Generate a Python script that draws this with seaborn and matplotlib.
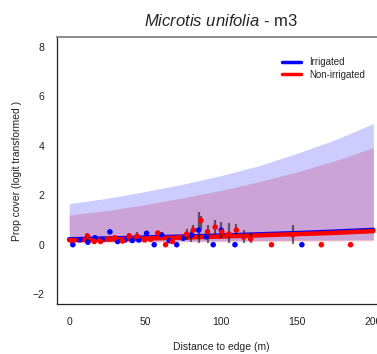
import numpy as np
import pandas as pd
import matplotlib
matplotlib.use("Agg")
import matplotlib.pyplot as plt
from matplotlib.lines import Line2D
import seaborn as sns

# Fitted curves and confidence bands
fit_x = [0, 25, 50, 75, 100, 125, 150, 175, 200]
irr_fit = [0.22, 0.25, 0.29, 0.33, 0.37, 0.42, 0.47, 0.53, 0.60]
non_fit = [0.18, 0.21, 0.25, 0.29, 0.33, 0.38, 0.43, 0.48, 0.55]
irr_upper = [1.66, 1.88, 2.15, 2.45, 2.80, 3.20, 3.70, 4.25, 4.90]
irr_lower = [0.12, 0.13, 0.14, 0.15, 0.16, 0.17, 0.18, 0.19, 0.20]
non_upper = [1.20, 1.38, 1.62, 1.90, 2.20, 2.55, 2.95, 3.40, 3.93]
non_lower = [0.08, 0.09, 0.10, 0.11, 0.12, 0.13, 0.14, 0.15, 0.16]

# Observed plot means
irr_x = [2.4, 7, 12.3, 17, 21.7, 26.8, 31.8, 36.6, 41.5, 45.8, 50.9, 55.9,
         60.8, 65.8, 70.7, 75, 80.3, 85.1, 90, 94.7, 100, 109, 153]
irr_y = [0.0, 0.2, 0.1, 0.28, 0.21, 0.52, 0.13, 0.19, 0.17, 0.19, 0.46, 0.0,
         0.4, 0.16, 0.0, 0.26, 0.39, 0.59, 0.32, 0.0, 0.59, 0.0, 0.0]
non_x = [1.6, 12, 16.5, 20.6, 26, 30, 35, 39.5, 44.7, 49.6, 53.7, 58.3, 63.4,
         67.8, 72.4, 77.2, 81.6, 86.6, 91, 96, 100.4, 105, 109.9, 114.7,
         119.3, 133, 147, 165.8, 185]
non_y = [0.17, 0.35, 0.13, 0.13, 0.24, 0.28, 0.15, 0.36, 0.34, 0.2, 0.22,
         0.47, 0.0, 0.13, 0.3, 0.42, 0.59, 0.98, 0.52, 0.71, 0.52, 0.43,
         0.59, 0.31, 0.24, 0.0, 0.4, 0.0, 0.0]

# Standard error ranges
err_x = [12, 39.5, 44.7, 77.2, 80.3, 81.6, 85.1, 86.6, 91, 96, 100, 105,
         109.9, 114.7, 119.3, 147]
err_lo = [0.21, 0.25, 0.19, 0.19, 0.12, 0.33, 0.05, 0.59, 0.05, 0.45, 0.26,
          0.05, 0.39, 0.05, 0.05, 0.02]
err_hi = [0.49, 0.49, 0.52, 0.62, 0.57, 0.80, 1.31, 1.16, 0.80, 0.99, 0.93,
          0.86, 0.82, 0.59, 0.46, 0.80]

series_names = ["Irrigated", "Non-irrigated"]
series_colors = ["#0000ff", "#ff0000"]

sns.set_style("white")
plt.rcParams["font.family"] = ["Liberation Sans", "DejaVu Sans"]
plt.rcParams["mathtext.fontset"] = "custom"
plt.rcParams["mathtext.it"] = "Liberation Sans:italic"
plt.rcParams["mathtext.rm"] = "Liberation Sans"

fig = plt.figure(figsize=(3.77, 3.54), dpi=100)
ax = fig.add_axes([0.1512, 0.1412, 0.8714, 0.754])

# confidence bands
ax.fill_between(fit_x, non_lower, non_upper, color=(1, 0, 0, 0.2), lw=0)
ax.fill_between(fit_x, irr_lower, irr_upper, color=(0, 0, 1, 0.2), lw=0)

# fitted lines
fits = pd.DataFrame({
    "x": fit_x * 2,
    "y": irr_fit + non_fit,
    "group": [series_names[0]] * len(fit_x) + [series_names[1]] * len(fit_x),
})
sns.lineplot(data=fits, x="x", y="y", hue="group", palette=series_colors,
             hue_order=series_names, linewidth=3.2, legend=False, ax=ax)

# error bars
ax.vlines(err_x, err_lo, err_hi, colors=(0.1, 0.1, 0.1, 0.6), linewidth=1.6)

# observed points
pts = pd.DataFrame({
    "x": irr_x + non_x,
    "y": irr_y + non_y,
    "group": [series_names[0]] * len(irr_x) + [series_names[1]] * len(non_x),
})
sns.scatterplot(data=pts, x="x", y="y", hue="group", palette=series_colors,
                hue_order=series_names, s=16, linewidth=0, legend=False,
                ax=ax, zorder=4)

ax.set_xlim(-8, 208)
ax.set_ylim(-2.4, 8.4)
ax.set_xticks([0, 50, 100, 150, 200])
ax.set_yticks([-2, 0, 2, 4, 6, 8])
ax.tick_params(axis="both", direction="out", length=4.5, width=0.8,
               labelsize=7.5, colors="#222222")
ax.tick_params(axis="x", pad=5)
ax.tick_params(axis="y", pad=4.5)
for side in ["left", "bottom"]:
    ax.spines[side].set_color("#222222")
    ax.spines[side].set_linewidth(0.9)
ax.spines["top"].set_color("#8a8a8a")
ax.spines["top"].set_linewidth(1.4)
ax.spines["right"].set_color("#8a8a8a")

ax.set_xlabel("Distance to edge (m)", fontsize=7.5, color="#222222", labelpad=11)
ax.set_ylabel("Prop cover (logit transformed )", fontsize=7.5, color="#222222",
              labelpad=8)
ax.set_title(r"$\mathit{Microtis\ unifolia}$ - m3", fontsize=12, pad=8)

handles = [Line2D([0], [0], color=c, lw=2.5) for c in series_colors]
ax.legend(handles, series_names, loc="upper left", bbox_to_anchor=(0.685, 0.925),
          frameon=False, fontsize=7, handlelength=1.9, handletextpad=0.9,
          labelspacing=0.25, borderpad=0, borderaxespad=0)

fig.savefig("out.png", dpi=100)
